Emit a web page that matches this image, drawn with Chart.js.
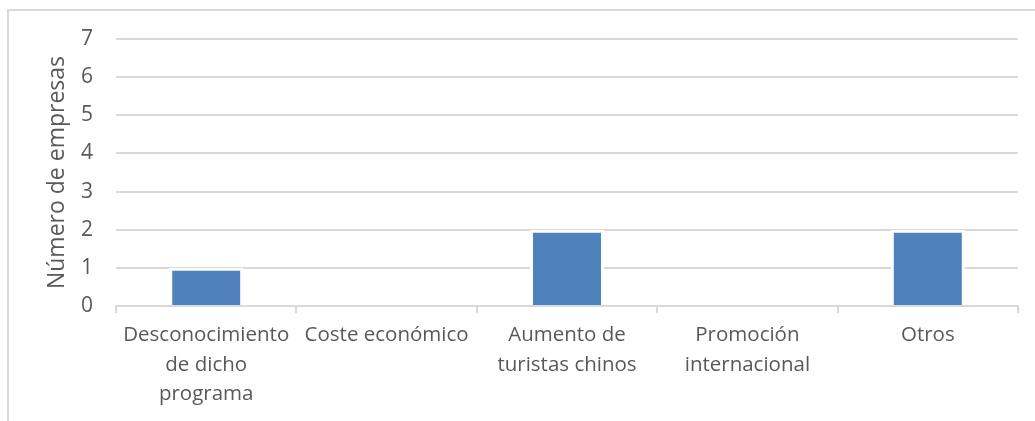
<!DOCTYPE html>
<html>
<head>
<meta charset="utf-8">
<script src="https://cdn.jsdelivr.net/npm/chart.js@4.4.1/dist/chart.umd.min.js"></script>
<style>
  html, body { margin: 0; padding: 0; background: #ffffff; }
  #wrap { position: relative; width: 1035px; height: 421px; overflow: hidden; }
  #frame { position: absolute; left: 7px; top: 9px; width: 1040px; height: 430px;
           border-top: 2px solid #d9d9d9; border-left: 2px solid #d9d9d9; box-sizing: border-box; }
  canvas { position: absolute; left: 0; top: 0; }
</style>
</head>
<body>
<div id="wrap">
  <div id="frame"></div>
  <canvas id="c" width="1035" height="421"></canvas>
</div>
<script>
const categories = [
  ["Desconocimiento", "de dicho", "programa"],
  ["Coste económico"],
  ["Aumento de", "turistas chinos"],
  ["Promoción", "internacional"],
  ["Otros"]
];
const values = [1, 0, 2, 0, 2];
const yTicks = [0, 1, 2, 3, 4, 5, 6, 7];
const yTitle = "Número de empresas";

const FONT = "'Open Sans', 'Liberation Sans', sans-serif";
const TXT = "#595959";
const GRID = "#d9d9d9";

new Chart(document.getElementById('c'), {
  type: 'bar',
  data: {
    labels: categories,
    datasets: [{
      data: values,
      backgroundColor: '#4f81bd',
      borderColor: '#ffffff',
      borderWidth: 3,
      borderSkipped: 'bottom',
      categoryPercentage: 1.0,
      barPercentage: 0.41
    }]
  },
  options: {
    responsive: false,
    animation: false,
    devicePixelRatio: 1,
    layout: { padding: { left: 0, top: 39, right: 17, bottom: 0 } },
    plugins: { legend: { display: false }, tooltip: { enabled: false } },
    scales: {
      x: {
        grid: { display: true, drawOnChartArea: false, drawTicks: true, tickLength: 7, color: GRID, lineWidth: 2, offset: true },
        border: { display: true, color: GRID, width: 2 },
        ticks: {
          color: TXT, font: { family: FONT, size: 20.5, lineHeight: 1.42 },
          padding: 8, maxRotation: 0, minRotation: 0, autoSkip: false
        },
        afterFit: (s) => { s.height = 115; }
      },
      y: {
        min: 0, max: 7,
        afterBuildTicks: (s) => { s.ticks = yTicks.map(v => ({ value: v })); },
        grid: { color: GRID, lineWidth: 2, drawTicks: false },
        border: { display: false },
        ticks: { color: TXT, font: { family: FONT, size: 21 }, padding: 23 },
        title: {
          display: true, text: yTitle, color: TXT,
          font: { family: FONT, size: 23, lineHeight: 1.2 },
          padding: { top: 44, bottom: 0 }
        },
        afterFit: (s) => { s.width = 116; }
      }
    }
  }
});
</script>
</body>
</html>
